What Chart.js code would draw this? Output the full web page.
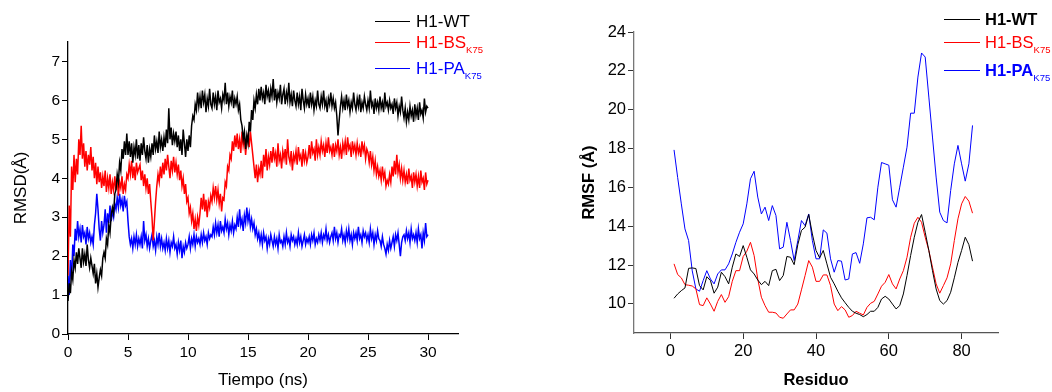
<!DOCTYPE html>
<html>
<head>
<meta charset="utf-8">
<script src="https://cdn.jsdelivr.net/npm/chart.js@4.4.1/dist/chart.umd.min.js"></script>
<style>
  body { margin: 0; background: #fff; font-family: "Liberation Sans", Arial, sans-serif; }
  #wrap { position: relative; width: 1052px; height: 392px; overflow: hidden; }
  canvas { position: absolute; top: 0; }
  .leg { position: absolute; line-height: 1; white-space: nowrap; }
  .leg sub { font-size: 9.5px; vertical-align: -5px; line-height: 1; font-weight: normal; }
  .legline { position: absolute; height: 0; }
</style>
</head>
<body>
<div id="wrap">
  <canvas id="rmsd" width="526" height="392" style="left:0"></canvas>
  <canvas id="rmsf" width="526" height="392" style="left:526px"></canvas>
</div>
<script>
// series names / colours (shared by both panels)
const seriesNames = ["H1-WT", "H1-BS", "H1-PA"];
const seriesSubs = ["", "K75", "K75"];
const seriesColors = ["#000000", "#ff0000", "#0000ff"];

// RMSD vs time, sampled every 0.1 ns from 0 to 30 ns
const dt = 0.1;
const rmsdWT = [
  0.85,1.3,1.05,1.6,1.4,1.9,1.7,2.1,1.8,2.2,
  1.95,1.7,2.2,1.85,2.05,1.75,2.3,1.9,1.7,1.95,
  1.75,1.55,1.8,1.3,1.55,1.2,1.45,1.65,1.5,1.95,
  2.1,1.95,2.45,2.3,2.8,2.6,3.05,3.25,3.1,3.6,
  3.7,4.1,3.9,4.4,4.2,4.75,4.5,4.95,4.6,5.15,
  4.6,4.95,4.55,4.9,4.4,4.8,4.6,5.0,4.5,4.85,
  4.45,4.9,4.6,5.05,4.7,4.5,4.85,4.4,4.75,4.55,
  4.9,4.6,5.1,4.75,4.95,4.65,5.2,4.8,5.0,4.7,
  5.05,4.8,5.25,4.9,5.8,5.0,5.3,4.85,5.15,4.95,
  5.2,4.8,5.1,4.7,5.0,4.6,5.25,4.9,4.55,5.0,
  4.7,5.1,4.8,5.35,5.6,5.5,5.9,5.75,6.2,5.85,
  6.1,5.8,6.25,5.95,6.15,5.7,6.05,5.85,6.3,5.9,
  5.8,6.2,5.9,6.1,5.75,6.25,5.95,6.05,5.8,6.15,
  6.0,6.45,5.9,6.2,5.85,6.1,5.95,6.25,5.8,6.05,
  5.9,6.1,5.75,5.9,5.5,5.35,5.0,5.2,4.75,5.1,
  4.9,5.45,5.2,5.75,5.5,6.0,5.8,6.15,5.9,6.3,
  6.0,6.35,6.05,6.2,5.9,6.4,6.1,6.25,5.95,6.3,
  6.1,6.55,6.0,6.3,5.95,6.2,6.05,6.4,5.9,6.15,
  6.3,5.9,6.2,6.0,6.45,5.95,6.15,5.85,6.25,6.0,
  5.85,6.2,5.9,6.1,5.75,6.3,6.0,5.8,6.15,5.9,
  6.05,5.8,6.2,5.9,6.1,5.75,6.0,5.85,6.25,5.9,
  5.8,6.1,5.9,6.25,5.85,6.0,5.7,6.05,5.9,6.2,
  5.85,6.05,5.8,5.95,5.6,5.1,5.5,5.85,6.1,5.8,
  6.0,5.75,6.15,5.85,6.0,5.7,5.95,5.8,6.2,5.9,
  5.75,6.05,5.85,6.15,5.7,5.95,5.8,6.1,5.9,5.75,
  6.0,5.8,6.25,5.85,5.95,5.65,6.05,5.8,5.95,5.75,
  6.1,5.8,5.95,5.7,6.2,5.85,5.95,5.75,6.0,5.8,
  5.9,5.65,6.05,5.8,5.95,5.6,5.85,5.7,6.1,5.75,
  5.55,5.8,5.45,5.7,5.5,5.85,5.6,5.75,5.45,5.9,
  5.6,5.8,5.5,5.95,5.65,5.75,5.55,6.05,5.7,5.85,
  5.8
];
const rmsdBS = [
  1.5,3.3,2.5,4.3,3.7,4.6,3.9,4.5,4.1,5.0,
  4.6,5.35,4.5,4.9,4.3,4.7,4.2,4.6,4.35,4.8,
  4.2,4.55,4.0,4.4,3.85,4.3,3.9,4.15,3.75,4.05,
  3.8,4.2,3.65,4.0,3.75,4.1,3.6,3.9,3.7,4.05,
  3.7,4.0,3.55,3.9,3.75,4.05,3.6,3.85,3.7,4.1,
  4.0,4.35,4.1,4.45,4.0,4.3,3.95,4.4,4.15,4.25,
  4.35,3.95,4.2,3.8,4.1,3.75,4.0,3.6,3.85,3.4,
  3.0,2.4,2.9,3.4,3.8,4.1,3.9,4.3,4.0,4.4,
  4.1,4.5,4.2,4.6,4.3,4.0,4.45,4.2,4.55,4.15,
  4.4,4.1,4.35,3.95,4.2,3.8,4.0,3.6,3.85,3.4,
  3.5,3.1,3.25,2.9,3.1,2.7,2.95,2.65,3.0,2.8,
  3.1,3.5,3.2,3.6,3.15,3.45,3.0,3.4,3.25,3.55,
  3.4,3.75,3.5,3.8,3.45,3.7,3.35,3.6,3.15,3.5,
  3.45,3.9,3.8,4.3,4.2,4.6,4.5,4.95,4.7,5.1,
  4.8,5.15,4.75,5.0,4.65,5.2,4.85,5.05,4.6,4.95,
  5.1,4.8,5.2,4.9,4.6,4.3,4.0,4.35,3.9,4.25,
  4.1,4.45,4.0,4.6,4.3,4.75,4.2,4.55,4.35,4.7,
  4.4,4.8,4.5,4.65,4.3,4.9,4.45,4.6,4.25,4.7,
  4.5,4.75,4.35,5.0,4.55,4.4,4.7,4.2,4.6,4.45,
  4.7,4.35,4.8,4.5,4.6,4.3,4.75,4.45,4.65,4.4,
  4.55,4.85,4.5,4.95,4.65,4.75,4.45,5.0,4.6,4.8,
  4.6,4.95,4.7,4.85,4.55,4.9,4.65,5.05,4.7,4.8,
  4.6,4.9,4.55,4.85,4.7,5.0,4.6,4.8,4.5,4.9,
  4.7,4.95,4.6,5.05,4.75,4.85,4.55,4.95,4.7,4.85,
  4.6,4.9,4.65,4.8,4.55,4.95,4.7,4.85,4.5,4.75,
  4.65,4.4,4.7,4.35,4.55,4.2,4.45,4.1,4.3,4.05,
  4.2,3.95,4.3,4.0,4.15,3.8,3.95,3.85,4.1,3.9,
  4.3,4.05,4.45,4.1,4.6,4.15,4.35,4.0,4.25,3.95,
  4.2,3.9,4.1,3.85,4.25,3.95,4.05,3.75,4.15,3.9,
  4.1,3.8,4.05,3.75,4.2,3.9,4.0,3.7,4.15,3.85,
  3.95
];
const rmsdPA = [
  1.5,1.0,1.9,1.4,2.3,2.0,2.7,2.4,2.9,2.5,
  2.7,2.35,2.8,2.5,2.6,2.3,2.75,2.45,2.6,2.35,
  2.5,2.3,2.8,3.1,3.6,3.2,2.7,2.4,2.9,2.6,
  2.8,3.2,2.6,3.1,2.85,3.3,2.9,3.15,3.0,3.35,
  3.2,3.5,3.25,3.6,3.3,3.45,3.15,3.55,3.3,3.4,
  2.9,2.5,2.3,2.45,2.2,2.5,2.3,2.55,2.25,2.45,
  2.3,2.5,2.2,2.9,2.4,2.55,2.25,2.45,2.2,2.4,
  2.55,2.25,2.4,2.15,2.5,2.3,2.6,2.25,2.45,2.2,
  2.35,2.15,2.45,2.2,2.4,2.1,2.35,2.25,2.5,2.2,
  2.3,2.05,2.35,2.15,2.4,1.95,2.25,2.1,2.35,2.2,
  2.3,2.5,2.2,2.45,2.3,2.55,2.25,2.5,2.35,2.45,
  2.3,2.55,2.35,2.6,2.4,2.5,2.3,2.6,2.45,2.55,
  2.5,2.75,2.55,2.85,2.6,2.8,2.5,2.9,2.65,2.75,
  2.6,2.95,2.7,2.85,2.55,2.8,2.65,2.9,2.6,2.8,
  2.7,3.0,2.75,3.2,2.8,2.95,2.65,3.05,2.85,3.25,
  2.9,3.1,2.75,2.95,2.7,2.85,2.55,2.7,2.45,2.6,
  2.35,2.55,2.3,2.6,2.4,2.5,2.2,2.45,2.3,2.55,
  2.4,2.25,2.5,2.3,2.45,2.2,2.55,2.35,2.4,2.25,
  2.5,2.3,2.6,2.35,2.45,2.25,2.55,2.4,2.5,2.3,
  2.45,2.3,2.6,2.35,2.5,2.25,2.4,2.55,2.3,2.45,
  2.35,2.5,2.3,2.55,2.4,2.6,2.3,2.45,2.35,2.55,
  2.4,2.6,2.35,2.55,2.45,2.7,2.4,2.55,2.35,2.5,
  2.6,2.4,2.75,2.45,2.6,2.35,2.55,2.5,2.7,2.4,
  2.55,2.35,2.65,2.45,2.7,2.4,2.55,2.3,2.6,2.45,
  2.6,2.4,2.75,2.45,2.55,2.35,2.65,2.5,2.6,2.4,
  2.55,2.35,2.7,2.45,2.6,2.3,2.55,2.4,2.65,2.45,
  2.4,2.25,2.5,2.3,2.2,2.05,2.3,2.15,2.4,2.2,
  2.35,2.5,2.25,2.55,2.4,2.6,2.3,2.0,2.35,2.5,
  2.55,2.4,2.65,2.45,2.6,2.35,2.7,2.45,2.55,2.4,
  2.6,2.35,2.7,2.45,2.55,2.2,2.6,2.4,2.85,2.5,
  2.55
];

// RMSF per residue (1..83)
const residues = Array.from({ length: 83 }, (_, i) => i + 1);
const rmsfWT = [
  10.29,10.51,10.68,10.82,11.83,11.85,11.82,10.94,10.72,11.4,
  11.2,10.55,10.86,11.63,11.4,11.03,11.89,12.57,12.44,13.0,
  12.4,11.75,11.54,11.23,10.99,11.16,10.94,11.71,11.78,11.2,
  11.46,12.44,12.4,12.02,13.05,13.78,13.95,14.6,13.6,12.75,
  12.37,12.75,12.06,11.37,11.03,10.65,10.31,10.06,9.82,9.62,
  9.52,9.45,9.34,9.45,9.62,9.62,9.82,10.25,10.39,10.25,
  9.99,9.74,9.91,10.51,11.46,12.49,13.43,14.2,14.6,13.69,
  12.75,11.71,10.77,10.17,9.99,10.17,10.6,11.34,12.14,12.75,
  13.43,13.05,12.2
];
const rmsfBS = [
  12.06,11.51,11.34,10.99,10.96,10.92,10.77,9.96,9.91,10.31,
  9.99,9.62,10.13,10.48,10.08,10.37,11.16,11.71,11.71,12.44,
  12.71,13.17,12.49,11.28,10.34,9.91,9.57,9.57,9.53,9.31,
  9.26,9.48,9.69,9.69,9.99,10.72,11.46,12.23,11.89,11.16,
  11.16,11.49,11.49,10.94,9.99,9.65,9.86,9.69,9.31,9.4,
  9.62,9.52,9.43,9.82,10.03,10.13,10.51,10.91,11.11,11.51,
  11.03,10.77,11.28,11.71,12.4,13.43,14.15,14.46,14.2,13.43,
  12.75,11.89,11.03,10.55,10.94,11.34,12.06,13.26,14.38,15.15,
  15.53,15.29,14.67
];
const rmsfPA = [
  17.93,16.5,15.15,13.86,13.26,11.7,10.77,10.65,11.2,11.71,
  11.28,11.03,11.54,11.75,11.75,12.06,12.57,13.17,13.69,14.12,
  15.15,16.44,16.83,15.5,14.63,14.98,14.29,15.06,14.55,12.83,
  12.92,14.2,13.26,12.23,13.26,14.29,14.03,14.63,13.26,12.32,
  12.32,13.81,13.64,12.32,11.63,12.23,12.2,11.23,11.28,12.57,
  12.64,12.09,13.09,14.43,14.46,14.33,16.01,17.28,17.21,17.14,
  15.36,14.98,16.01,17.04,18.07,19.82,19.82,21.68,22.92,22.71,
  20.65,18.59,16.53,14.72,14.29,14.17,15.84,17.21,18.16,17.21,
  16.32,17.21,19.19
];

// tick labels
const rmsdXTicks = [0, 5, 10, 15, 20, 25, 30];
const rmsdYTicks = [0, 1, 2, 3, 4, 5, 6, 7];
const rmsfXTicks = [0, 20, 40, 60, 80];
const rmsfYTicks = [10, 12, 14, 16, 18, 20, 22, 24];

const FONT = '"Liberation Sans", Arial, sans-serif';

function axis(o) {
  return {
    type: 'linear',
    min: o.min,
    max: o.max,
    afterBuildTicks: s => { s.ticks = o.ticks.map(v => ({ value: v })); },
    afterFit: s => {
      if (s.isHorizontal()) s.height = o.size; else s.width = o.size;
    },
    grid: { drawOnChartArea: false, drawTicks: true, tickLength: 6, color: o.tickColor, lineWidth: 1 },
    border: { display: true, color: o.axisColor, width: 1.3 },
    ticks: { color: '#000', font: { family: FONT, size: o.tickSize }, padding: o.tickPad, maxRotation: 0, autoSkip: false },
    title: {
      display: true, text: o.title, color: '#000',
      font: { family: FONT, size: o.titleSize, weight: o.bold ? 'bold' : 'normal' },
      padding: o.titlePad
    }
  };
}

function lineSets(xs, arrays, width) {
  return arrays.map((arr, i) => ({
    label: seriesNames[i],
    data: arr.map((v, k) => ({ x: xs[k], y: v })),
    borderColor: seriesColors[i],
    borderWidth: width,
    pointRadius: 0,
    tension: 0,
    fill: false
  }));
}

const times = rmsdWT.map((_, i) => +(i * dt).toFixed(1));

new Chart(document.getElementById('rmsd'), {
  type: 'line',
  data: { datasets: lineSets(times, [rmsdWT, rmsdBS, rmsdPA], 1.5) },
  options: {
    responsive: false,
    animation: false,
    layout: { padding: { left: 0, top: 42, right: 68, bottom: 0 } },
    plugins: { legend: { display: false }, tooltip: { enabled: false } },
    scales: {
      x: axis({ min: 0, max: 32.5, ticks: rmsdXTicks, size: 58, tickColor: '#000', axisColor: '#000',
                tickSize: 15.5, tickPad: 3, title: 'Tiempo (ns)', titleSize: 17, titlePad: { top: 0, bottom: 1 } }),
      y: axis({ min: 0, max: 7.5, ticks: rmsdYTicks, size: 68, tickColor: '#000', axisColor: '#000',
                tickSize: 15.5, tickPad: 2, title: 'RMSD(Å)', titleSize: 17, titlePad: { top: 11, bottom: 0 } })
    }
  }
});

new Chart(document.getElementById('rmsf'), {
  type: 'line',
  data: { datasets: lineSets(residues, [rmsfWT, rmsfBS, rmsfPA], 1) },
  options: {
    responsive: false,
    animation: false,
    layout: { padding: { left: 0, top: 32, right: 54, bottom: 0 } },
    plugins: { legend: { display: false }, tooltip: { enabled: false } },
    scales: {
      x: axis({ min: -10, max: 90, ticks: rmsfXTicks, size: 59, tickColor: '#333', axisColor: '#555',
                tickSize: 16.5, tickPad: 3, title: 'Residuo', titleSize: 16.5, bold: true, titlePad: { top: 0, bottom: 2 } }),
      y: axis({ min: 8.5, max: 24, ticks: rmsfYTicks, size: 108, tickColor: '#333', axisColor: '#777',
                tickSize: 16.5, tickPad: 2, title: 'RMSF (Å)', titleSize: 16.5, bold: true, titlePad: { top: 54, bottom: 0 } })
    }
  }
});

// legends as HTML so the K75 subscripts stay real text
function legend(x0, x1, textX, rows, size, weights, lineW) {
  const wrap = document.getElementById('wrap');
  seriesNames.forEach((name, i) => {
    const ln = document.createElement('div');
    ln.className = 'legline';
    ln.style.left = x0 + 'px';
    ln.style.width = (x1 - x0) + 'px';
    ln.style.top = (rows[i] - lineW / 2) + 'px';
    ln.style.borderTop = lineW + 'px solid ' + seriesColors[i];
    wrap.appendChild(ln);
    const lb = document.createElement('div');
    lb.className = 'leg';
    lb.style.left = textX + 'px';
    lb.style.top = (rows[i] - 0.49 * size) + 'px';
    lb.style.fontSize = size + 'px';
    lb.style.color = seriesColors[i];
    lb.style.fontWeight = weights[i];
    lb.innerHTML = name + (seriesSubs[i] ? '<sub>' + seriesSubs[i] + '</sub>' : '');
    wrap.appendChild(lb);
  });
}
legend(375, 410, 416, [21.7, 42.3, 68.7], 17, ['normal', 'normal', 'normal'], 1.5);
legend(944, 980, 985, [19, 42, 70], 16.5, ['bold', 'normal', 'bold'], 1);
</script>
</body>
</html>
